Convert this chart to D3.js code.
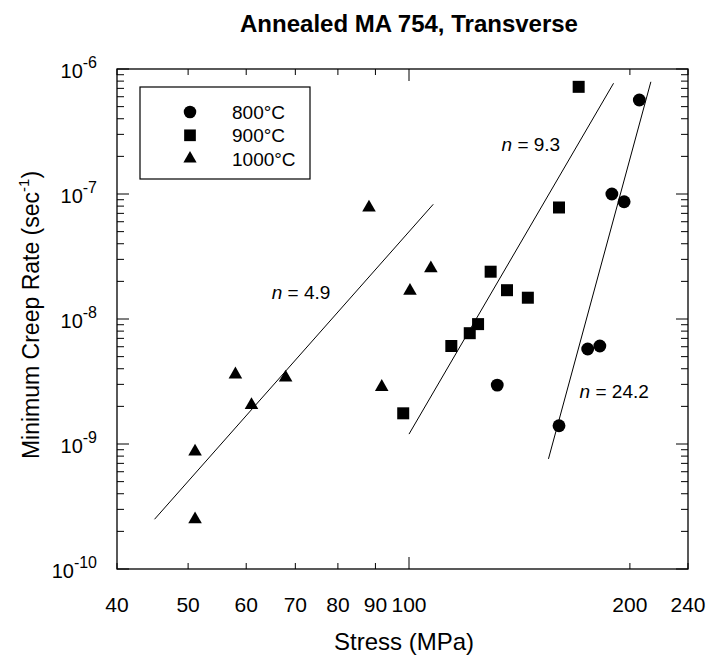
<!DOCTYPE html>
<html>
<head>
<meta charset="utf-8">
<script src="https://cdn.jsdelivr.net/npm/d3@7"></script>
<style>
  body { margin: 0; background: #fff; }
  text { font-family: Arial, "Liberation Sans", sans-serif; fill: #000; }
</style>
</head>
<body>
<div id="chart"></div>
<script>
// ---- data ----
var series = ['800°C', '900°C', '1000°C'];
var symbols = ['circle', 'square', 'triangle'];

// stress (MPa), minimum creep rate (1/s)
var stress800 = [131.9, 160.1, 175.2, 182.0, 189.0, 196.4, 206.0];
var rate800 = [2.96e-9, 1.4e-9, 5.75e-9, 6.08e-9, 1.0e-7, 8.67e-8, 5.65e-7];

var stress900 = [98.2, 114.2, 121.0, 124.2, 129.2, 136.0, 145.2, 160.1, 170.3];
var rate900 = [1.76e-9, 6.08e-9, 7.7e-9, 9.1e-9, 2.39e-8, 1.7e-8, 1.48e-8, 7.8e-8, 7.2e-7];

var stress1000 = [51.1, 51.1, 58.0, 61.0, 67.9, 88.2, 91.8, 100.3, 107.1];
var rate1000 = [8.7e-10, 2.5e-10, 3.6e-9, 2.05e-9, 3.4e-9, 7.77e-8, 2.86e-9, 1.68e-8, 2.54e-8];

// fitted power-law lines: [stress, rate] end points
var fit1000 = [[45.0, 2.5e-10], [107.9, 8.27e-8]];
var fit900 = [[100.0, 1.2e-9], [190.0, 7.69e-7]];
var fit800 = [[154.9, 7.6e-10], [213.6, 7.9e-7]];
var fitLabels = ['4.9', '9.3', '24.2'];
var fitLabelAt = [[65.0, 1.45e-8], [133.7, 2.2e-7], [170.8, 2.35e-9]];

var xTicks = [40, 50, 60, 70, 80, 90, 100, 200, 240];
var yDecades = [-10, -9, -8, -7, -6];

// ---- layout ----
var width = 711, height = 658;
var margin = {top: 69, right: 23, bottom: 89, left: 117};
var iw = width - margin.left - margin.right;
var ih = height - margin.top - margin.bottom;

var svg = d3.select('#chart').append('svg')
  .attr('width', width).attr('height', height);

var x = d3.scaleLog().domain([40, 240]).range([0, iw]);
var y = d3.scaleLog().domain([1e-10, 1e-6]).range([ih, 0]);

var g = svg.append('g').attr('transform', 'translate(' + margin.left + ',' + margin.top + ')');

// title
svg.append('text')
  .attr('x', 409).attr('y', 32)
  .attr('text-anchor', 'middle')
  .style('font-size', '24px').style('font-weight', 'bold')
  .text('Annealed MA 754, Transverse');

// frame
g.append('rect').attr('width', iw).attr('height', ih)
  .attr('fill', 'none').attr('stroke', '#000').attr('stroke-width', 1.3);

// x ticks (inward, top and bottom)
xTicks.forEach(function(t) {
  var len = (t === 100) ? 12 : 6;
  var px = x(t);
  g.append('line').attr('x1', px).attr('x2', px).attr('y1', ih).attr('y2', ih - len)
    .attr('stroke', '#000').attr('stroke-width', 1);
  g.append('line').attr('x1', px).attr('x2', px).attr('y1', 0).attr('y2', len)
    .attr('stroke', '#000').attr('stroke-width', 1);
  g.append('text').attr('x', px).attr('y', ih + 43)
    .attr('text-anchor', 'middle').style('font-size', '21px').text(t);
});

// y ticks (inward, left and right)
var yMinor = [];
yDecades.slice(0, -1).forEach(function(e) {
  for (var k = 2; k <= 9; k++) yMinor.push(k * Math.pow(10, e));
});
yMinor.forEach(function(v) {
  var py = y(v);
  g.append('line').attr('x1', 0).attr('x2', 7).attr('y1', py).attr('y2', py)
    .attr('stroke', '#000').attr('stroke-width', 1);
  g.append('line').attr('x1', iw).attr('x2', iw - 7).attr('y1', py).attr('y2', py)
    .attr('stroke', '#000').attr('stroke-width', 1);
});
yDecades.forEach(function(e) {
  var py = y(Math.pow(10, e));
  g.append('line').attr('x1', 0).attr('x2', 12).attr('y1', py).attr('y2', py)
    .attr('stroke', '#000').attr('stroke-width', 1);
  g.append('line').attr('x1', iw).attr('x2', iw - 12).attr('y1', py).attr('y2', py)
    .attr('stroke', '#000').attr('stroke-width', 1);
  var t = g.append('text').attr('x', -20).attr('y', py + 9)
    .attr('text-anchor', 'end').style('font-size', '20px');
  t.append('tspan').text('10');
  t.append('tspan').attr('dy', -10).style('font-size', '16px').text(e);
});

// axis titles
svg.append('text')
  .attr('x', 404).attr('y', 650)
  .attr('text-anchor', 'middle').style('font-size', '24px')
  .text('Stress (MPa)');

var yt = svg.append('text')
  .attr('transform', 'translate(39,' + 315 + ') rotate(-90)')
  .attr('text-anchor', 'middle').style('font-size', '23px');
yt.append('tspan').text('Minimum Creep Rate (sec');
yt.append('tspan').attr('dy', -10).style('font-size', '15px').text('-1');
yt.append('tspan').attr('dy', 10).text(')');

// fit lines
var line = d3.line().x(function(d) { return x(d[0]); }).y(function(d) { return y(d[1]); });
[fit1000, fit900, fit800].forEach(function(f) {
  g.append('path').attr('d', line(f)).attr('fill', 'none')
    .attr('stroke', '#000').attr('stroke-width', 1);
});
fitLabels.forEach(function(n, i) {
  var t = g.append('text')
    .attr('x', x(fitLabelAt[i][0])).attr('y', y(fitLabelAt[i][1]))
    .style('font-size', '19px');
  t.append('tspan').style('font-style', 'italic').text('n');
  t.append('tspan').text(' = ' + n);
});

// markers
var symType = {circle: d3.symbolCircle, square: d3.symbolSquare, triangle: d3.symbolTriangle};
var symSize = {circle: 130, square: 144, triangle: 80};
function drawSeries(xs, ys, sym) {
  var pts = xs.map(function(v, i) { return [v, ys[i]]; });
  g.selectAll('.pt-' + sym).data(pts).enter().append('path')
    .attr('class', 'pt-' + sym)
    .attr('d', d3.symbol().type(symType[sym]).size(symSize[sym]))
    .attr('transform', function(d) {
      return 'translate(' + x(d[0]) + ',' + y(d[1]) + ')';
    })
    .attr('fill', '#000');
}
drawSeries(stress800, rate800, 'circle');
drawSeries(stress900, rate900, 'square');
drawSeries(stress1000, rate1000, 'triangle');

// legend
var lg = svg.append('g').attr('transform', 'translate(140,87)');
lg.append('rect').attr('width', 170).attr('height', 92)
  .attr('fill', '#fff').attr('stroke', '#000').attr('stroke-width', 1.2);
series.forEach(function(s, i) {
  var cy = 25 + i * 23.3;
  lg.append('path')
    .attr('d', d3.symbol().type(symType[symbols[i]]).size(symSize[symbols[i]] * 0.95))
    .attr('transform', 'translate(50,' + cy + ')')
    .attr('fill', '#000');
  lg.append('text').attr('x', 92).attr('y', cy + 7)
    .style('font-size', '19px').text(s);
});
</script>
</body>
</html>
